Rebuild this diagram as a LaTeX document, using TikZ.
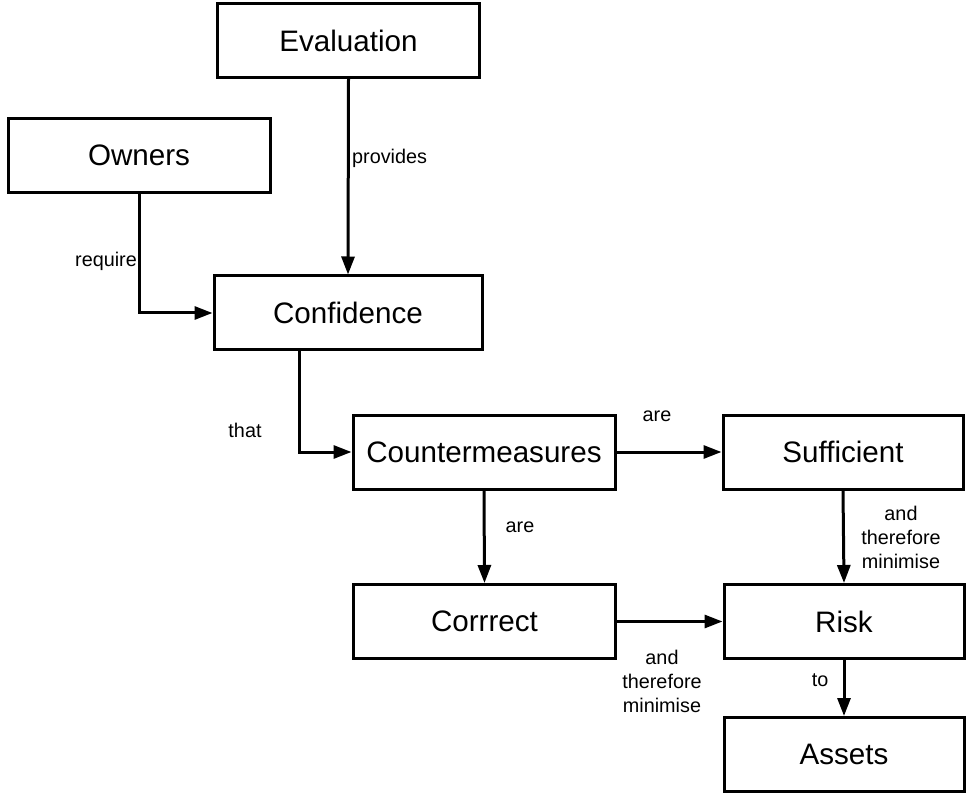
\documentclass[tikz,border=0pt]{standalone}
\usepackage{fontspec}
\setmainfont{Liberation Sans}
\usepackage{tikz}
\usetikzlibrary{arrows.meta,positioning}

\tikzset{
  box/.style={draw=black, line width=3pt, minimum width=262pt, minimum height=74pt,
    inner sep=0pt, font=\fontsize{29.6pt}{34pt}\selectfont},
  rbox/.style={box, minimum width=240pt},
  lbl/.style={inner sep=0pt, align=center, font=\fontsize{19.8pt}{24pt}\selectfont},
  link/.style={line width=3pt, -{Triangle[length=18pt,width=13pt]}}
}

\begin{document}
\begin{tikzpicture}[x=1pt,y=-1pt]
		\useasboundingbox (0,0) rectangle (967,794);
		% boxes
		\node[box] (eval) at (348.5, 40.5) {Evaluation};
		\node[box] (owners) at (139, 155.5) {Owners};
		\node[box, minimum width=268pt] (conf) at (348, 313) {Confidence};
		\node[box] (cm) at (484, 452) {Countermeasures};
		\node[rbox] (suff) at (843, 452) {Sufficient};
		\node[box] (corr) at (484.5, 621.5) {Corrrect};
		\node[rbox] (risk) at (844, 621.5) {Risk};
		\node[rbox] (assets) at (844, 754.5) {Assets};
		% links
		\draw[link] (eval.south) -- (conf.north);
		\draw[link] (owners.south) |- (conf.west);
		\draw[link] ([xshift=-49pt]conf.south) |- (cm.west);
		\draw[link] (cm.east) -- (suff.west);
		\draw[link] (cm.south) -- (corr.north);
		\draw[link] (suff.south) -- (risk.north);
		\draw[link] (corr.east) -- (risk.west);
		\draw[link] (risk.south) -- (assets.north);
		% labels
		\node[lbl, anchor=west] (provides) at (352, 158) {provides};
		\node[lbl, anchor=east] (require) at (137, 261) {require};
		\node[lbl] (that) at (245, 430) {that};
		\node[lbl] (are1) at (657, 416) {are};
		\node[lbl] (are2) at (520, 527) {are};
		\node[lbl] (min1) at (901, 537) {and\\therefore\\minimise};
		\node[lbl] (min2) at (662, 681) {and\\therefore\\minimise};
		\node[lbl] (to) at (820, 680) {to};
		\end{tikzpicture}
\end{document}
